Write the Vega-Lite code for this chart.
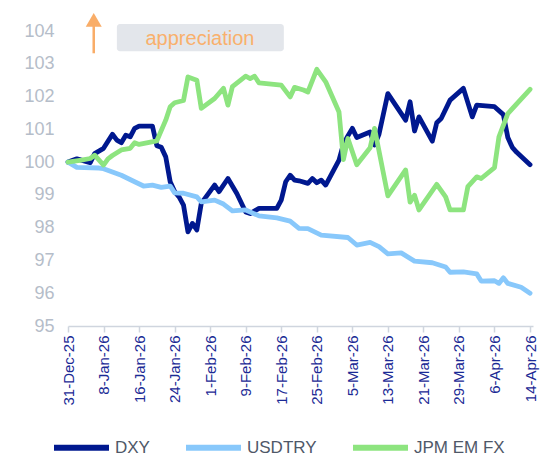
{
  "$schema": "https://vega.github.io/schema/vega-lite/v6.json",
  "width": 465,
  "height": 295,
  "autosize": {"type": "none"},
  "padding": {"left": 68, "top": 31, "right": 19, "bottom": 131},
  "background": "white",
  "config": {"view": {"stroke": null}, "font": "Liberation Sans"},
  "datasets": {
    "fx": [
      {"date": "2025-12-31", "series": "DXY", "value": 100.00},
      {"date": "2026-01-02", "series": "DXY", "value": 100.10},
      {"date": "2026-01-03", "series": "DXY", "value": 100.06},
      {"date": "2026-01-05", "series": "DXY", "value": 99.98},
      {"date": "2026-01-06", "series": "DXY", "value": 100.26},
      {"date": "2026-01-08", "series": "DXY", "value": 100.42},
      {"date": "2026-01-10", "series": "DXY", "value": 100.85},
      {"date": "2026-01-11", "series": "DXY", "value": 100.67},
      {"date": "2026-01-12", "series": "DXY", "value": 100.59},
      {"date": "2026-01-13", "series": "DXY", "value": 100.82},
      {"date": "2026-01-14", "series": "DXY", "value": 100.77},
      {"date": "2026-01-15", "series": "DXY", "value": 101.03},
      {"date": "2026-01-16", "series": "DXY", "value": 101.10},
      {"date": "2026-01-19", "series": "DXY", "value": 101.10},
      {"date": "2026-01-20", "series": "DXY", "value": 100.50},
      {"date": "2026-01-21", "series": "DXY", "value": 100.45},
      {"date": "2026-01-22", "series": "DXY", "value": 100.16},
      {"date": "2026-01-23", "series": "DXY", "value": 99.40},
      {"date": "2026-01-24", "series": "DXY", "value": 99.10},
      {"date": "2026-01-25", "series": "DXY", "value": 98.94},
      {"date": "2026-01-26", "series": "DXY", "value": 98.69},
      {"date": "2026-01-27", "series": "DXY", "value": 97.87},
      {"date": "2026-01-28", "series": "DXY", "value": 98.13},
      {"date": "2026-01-29", "series": "DXY", "value": 97.93},
      {"date": "2026-01-30", "series": "DXY", "value": 98.74},
      {"date": "2026-02-02", "series": "DXY", "value": 99.30},
      {"date": "2026-02-03", "series": "DXY", "value": 99.10},
      {"date": "2026-02-05", "series": "DXY", "value": 99.50},
      {"date": "2026-02-07", "series": "DXY", "value": 99.04},
      {"date": "2026-02-09", "series": "DXY", "value": 98.48},
      {"date": "2026-02-10", "series": "DXY", "value": 98.43},
      {"date": "2026-02-12", "series": "DXY", "value": 98.59},
      {"date": "2026-02-16", "series": "DXY", "value": 98.59},
      {"date": "2026-02-17", "series": "DXY", "value": 98.84},
      {"date": "2026-02-18", "series": "DXY", "value": 99.40},
      {"date": "2026-02-19", "series": "DXY", "value": 99.60},
      {"date": "2026-02-20", "series": "DXY", "value": 99.45},
      {"date": "2026-02-21", "series": "DXY", "value": 99.43},
      {"date": "2026-02-23", "series": "DXY", "value": 99.35},
      {"date": "2026-02-24", "series": "DXY", "value": 99.50},
      {"date": "2026-02-25", "series": "DXY", "value": 99.37},
      {"date": "2026-02-26", "series": "DXY", "value": 99.45},
      {"date": "2026-02-27", "series": "DXY", "value": 99.30},
      {"date": "2026-03-02", "series": "DXY", "value": 100.06},
      {"date": "2026-03-03", "series": "DXY", "value": 100.55},
      {"date": "2026-03-04", "series": "DXY", "value": 100.80},
      {"date": "2026-03-05", "series": "DXY", "value": 101.03},
      {"date": "2026-03-06", "series": "DXY", "value": 100.75},
      {"date": "2026-03-09", "series": "DXY", "value": 100.92},
      {"date": "2026-03-10", "series": "DXY", "value": 100.52},
      {"date": "2026-03-11", "series": "DXY", "value": 100.85},
      {"date": "2026-03-13", "series": "DXY", "value": 102.09},
      {"date": "2026-03-17", "series": "DXY", "value": 101.28},
      {"date": "2026-03-18", "series": "DXY", "value": 101.84},
      {"date": "2026-03-19", "series": "DXY", "value": 100.95},
      {"date": "2026-03-20", "series": "DXY", "value": 101.38},
      {"date": "2026-03-23", "series": "DXY", "value": 100.64},
      {"date": "2026-03-24", "series": "DXY", "value": 101.20},
      {"date": "2026-03-25", "series": "DXY", "value": 101.33},
      {"date": "2026-03-27", "series": "DXY", "value": 101.89},
      {"date": "2026-03-30", "series": "DXY", "value": 102.25},
      {"date": "2026-04-01", "series": "DXY", "value": 101.38},
      {"date": "2026-04-02", "series": "DXY", "value": 101.74},
      {"date": "2026-04-06", "series": "DXY", "value": 101.69},
      {"date": "2026-04-08", "series": "DXY", "value": 101.45},
      {"date": "2026-04-09", "series": "DXY", "value": 100.75},
      {"date": "2026-04-10", "series": "DXY", "value": 100.45},
      {"date": "2026-04-11", "series": "DXY", "value": 100.30},
      {"date": "2026-04-14", "series": "DXY", "value": 99.92},

      {"date": "2025-12-31", "series": "USDTRY", "value": 100.00},
      {"date": "2026-01-02", "series": "USDTRY", "value": 99.84},
      {"date": "2026-01-07", "series": "USDTRY", "value": 99.82},
      {"date": "2026-01-08", "series": "USDTRY", "value": 99.80},
      {"date": "2026-01-10", "series": "USDTRY", "value": 99.70},
      {"date": "2026-01-12", "series": "USDTRY", "value": 99.60},
      {"date": "2026-01-15", "series": "USDTRY", "value": 99.40},
      {"date": "2026-01-17", "series": "USDTRY", "value": 99.27},
      {"date": "2026-01-19", "series": "USDTRY", "value": 99.30},
      {"date": "2026-01-21", "series": "USDTRY", "value": 99.23},
      {"date": "2026-01-23", "series": "USDTRY", "value": 99.27},
      {"date": "2026-01-24", "series": "USDTRY", "value": 99.06},
      {"date": "2026-01-26", "series": "USDTRY", "value": 99.05},
      {"date": "2026-01-29", "series": "USDTRY", "value": 98.94},
      {"date": "2026-01-30", "series": "USDTRY", "value": 98.79},
      {"date": "2026-02-02", "series": "USDTRY", "value": 98.84},
      {"date": "2026-02-04", "series": "USDTRY", "value": 98.72},
      {"date": "2026-02-06", "series": "USDTRY", "value": 98.51},
      {"date": "2026-02-09", "series": "USDTRY", "value": 98.54},
      {"date": "2026-02-12", "series": "USDTRY", "value": 98.36},
      {"date": "2026-02-16", "series": "USDTRY", "value": 98.30},
      {"date": "2026-02-19", "series": "USDTRY", "value": 98.20},
      {"date": "2026-02-21", "series": "USDTRY", "value": 97.98},
      {"date": "2026-02-23", "series": "USDTRY", "value": 97.97},
      {"date": "2026-02-26", "series": "USDTRY", "value": 97.77},
      {"date": "2026-03-04", "series": "USDTRY", "value": 97.70},
      {"date": "2026-03-06", "series": "USDTRY", "value": 97.47},
      {"date": "2026-03-09", "series": "USDTRY", "value": 97.55},
      {"date": "2026-03-11", "series": "USDTRY", "value": 97.42},
      {"date": "2026-03-13", "series": "USDTRY", "value": 97.20},
      {"date": "2026-03-16", "series": "USDTRY", "value": 97.23},
      {"date": "2026-03-19", "series": "USDTRY", "value": 96.98},
      {"date": "2026-03-23", "series": "USDTRY", "value": 96.93},
      {"date": "2026-03-26", "series": "USDTRY", "value": 96.80},
      {"date": "2026-03-27", "series": "USDTRY", "value": 96.64},
      {"date": "2026-03-30", "series": "USDTRY", "value": 96.65},
      {"date": "2026-04-02", "series": "USDTRY", "value": 96.59},
      {"date": "2026-04-03", "series": "USDTRY", "value": 96.37},
      {"date": "2026-04-06", "series": "USDTRY", "value": 96.38},
      {"date": "2026-04-07", "series": "USDTRY", "value": 96.30},
      {"date": "2026-04-08", "series": "USDTRY", "value": 96.47},
      {"date": "2026-04-09", "series": "USDTRY", "value": 96.30},
      {"date": "2026-04-12", "series": "USDTRY", "value": 96.18},
      {"date": "2026-04-14", "series": "USDTRY", "value": 96.00},

      {"date": "2025-12-31", "series": "JPM EM FX", "value": 100.00},
      {"date": "2026-01-03", "series": "JPM EM FX", "value": 100.06},
      {"date": "2026-01-05", "series": "JPM EM FX", "value": 100.11},
      {"date": "2026-01-06", "series": "JPM EM FX", "value": 100.21},
      {"date": "2026-01-08", "series": "JPM EM FX", "value": 99.91},
      {"date": "2026-01-09", "series": "JPM EM FX", "value": 100.10},
      {"date": "2026-01-10", "series": "JPM EM FX", "value": 100.20},
      {"date": "2026-01-12", "series": "JPM EM FX", "value": 100.37},
      {"date": "2026-01-14", "series": "JPM EM FX", "value": 100.42},
      {"date": "2026-01-15", "series": "JPM EM FX", "value": 100.59},
      {"date": "2026-01-16", "series": "JPM EM FX", "value": 100.54},
      {"date": "2026-01-20", "series": "JPM EM FX", "value": 100.65},
      {"date": "2026-01-22", "series": "JPM EM FX", "value": 101.28},
      {"date": "2026-01-23", "series": "JPM EM FX", "value": 101.69},
      {"date": "2026-01-24", "series": "JPM EM FX", "value": 101.81},
      {"date": "2026-01-26", "series": "JPM EM FX", "value": 101.88},
      {"date": "2026-01-27", "series": "JPM EM FX", "value": 102.60},
      {"date": "2026-01-29", "series": "JPM EM FX", "value": 102.50},
      {"date": "2026-01-30", "series": "JPM EM FX", "value": 101.64},
      {"date": "2026-02-02", "series": "JPM EM FX", "value": 101.94},
      {"date": "2026-02-04", "series": "JPM EM FX", "value": 102.25},
      {"date": "2026-02-05", "series": "JPM EM FX", "value": 101.74},
      {"date": "2026-02-06", "series": "JPM EM FX", "value": 102.30},
      {"date": "2026-02-09", "series": "JPM EM FX", "value": 102.62},
      {"date": "2026-02-10", "series": "JPM EM FX", "value": 102.55},
      {"date": "2026-02-11", "series": "JPM EM FX", "value": 102.62},
      {"date": "2026-02-12", "series": "JPM EM FX", "value": 102.42},
      {"date": "2026-02-17", "series": "JPM EM FX", "value": 102.35},
      {"date": "2026-02-19", "series": "JPM EM FX", "value": 101.99},
      {"date": "2026-02-20", "series": "JPM EM FX", "value": 102.28},
      {"date": "2026-02-22", "series": "JPM EM FX", "value": 102.20},
      {"date": "2026-02-23", "series": "JPM EM FX", "value": 102.14},
      {"date": "2026-02-25", "series": "JPM EM FX", "value": 102.83},
      {"date": "2026-02-27", "series": "JPM EM FX", "value": 102.45},
      {"date": "2026-03-02", "series": "JPM EM FX", "value": 101.53},
      {"date": "2026-03-03", "series": "JPM EM FX", "value": 100.08},
      {"date": "2026-03-04", "series": "JPM EM FX", "value": 100.72},
      {"date": "2026-03-06", "series": "JPM EM FX", "value": 99.92},
      {"date": "2026-03-09", "series": "JPM EM FX", "value": 100.44},
      {"date": "2026-03-10", "series": "JPM EM FX", "value": 101.03},
      {"date": "2026-03-13", "series": "JPM EM FX", "value": 98.97},
      {"date": "2026-03-17", "series": "JPM EM FX", "value": 99.76},
      {"date": "2026-03-18", "series": "JPM EM FX", "value": 98.78},
      {"date": "2026-03-19", "series": "JPM EM FX", "value": 98.99},
      {"date": "2026-03-20", "series": "JPM EM FX", "value": 98.54},
      {"date": "2026-03-24", "series": "JPM EM FX", "value": 99.32},
      {"date": "2026-03-26", "series": "JPM EM FX", "value": 98.94},
      {"date": "2026-03-27", "series": "JPM EM FX", "value": 98.54},
      {"date": "2026-03-30", "series": "JPM EM FX", "value": 98.54},
      {"date": "2026-03-31", "series": "JPM EM FX", "value": 99.25},
      {"date": "2026-04-02", "series": "JPM EM FX", "value": 99.55},
      {"date": "2026-04-03", "series": "JPM EM FX", "value": 99.50},
      {"date": "2026-04-06", "series": "JPM EM FX", "value": 99.83},
      {"date": "2026-04-07", "series": "JPM EM FX", "value": 100.77},
      {"date": "2026-04-09", "series": "JPM EM FX", "value": 101.48},
      {"date": "2026-04-14", "series": "JPM EM FX", "value": 102.22}
    ]
  },
  "layer": [
    {
      "data": {"name": "fx"},
      "mark": {"type": "line", "strokeWidth": 4.8, "strokeJoin": "round", "strokeCap": "round"},
      "encoding": {
        "x": {
          "field": "date",
          "type": "temporal",
          "scale": {
            "type": "utc",
            "domain": [
              {"year": 2025, "month": 12, "date": 31, "utc": true},
              {"year": 2026, "month": 4, "date": 14, "hours": 16, "utc": true}
            ]
          },
          "axis": {
            "title": null,
            "format": "%-d-%b-%y",
            "tickCount": 40,
            "values": [
              {"year": 2025, "month": 12, "date": 31, "utc": true},
              {"year": 2026, "month": 1, "date": 8, "utc": true},
              {"year": 2026, "month": 1, "date": 16, "utc": true},
              {"year": 2026, "month": 1, "date": 24, "utc": true},
              {"year": 2026, "month": 2, "date": 1, "utc": true},
              {"year": 2026, "month": 2, "date": 9, "utc": true},
              {"year": 2026, "month": 2, "date": 17, "utc": true},
              {"year": 2026, "month": 2, "date": 25, "utc": true},
              {"year": 2026, "month": 3, "date": 5, "utc": true},
              {"year": 2026, "month": 3, "date": 13, "utc": true},
              {"year": 2026, "month": 3, "date": 21, "utc": true},
              {"year": 2026, "month": 3, "date": 29, "utc": true},
              {"year": 2026, "month": 4, "date": 6, "utc": true},
              {"year": 2026, "month": 4, "date": 14, "utc": true}
            ],
            "labelAngle": -90,
            "labelFontSize": 15,
            "labelColor": "#1b2a95",
            "labelPadding": 3,
            "labelOverlap": false,
            "labelBound": false,
            "labelFlush": false,
            "domainColor": "#cfd5de",
            "domainWidth": 1.5,
            "tickColor": "#cfd5de",
            "tickWidth": 1.5,
            "tickSize": 6,
            "grid": false
          }
        },
        "y": {
          "field": "value",
          "type": "quantitative",
          "scale": {"domain": [95, 104], "nice": false, "zero": false},
          "axis": {
            "title": null,
            "format": "d",
            "tickCount": 40,
            "values": [95, 96, 97, 98, 99, 100, 101, 102, 103, 104],
            "labelOverlap": false,
            "domain": false,
            "ticks": false,
            "grid": false,
            "labelFontSize": 18,
            "labelColor": "#b5bdc9",
            "labelPadding": 14
          }
        },
        "color": {
          "field": "series",
          "type": "nominal",
          "scale": {"domain": ["DXY", "USDTRY", "JPM EM FX"], "range": ["#00188f", "#88c8fb", "#8de47f"]},
          "legend": {
            "title": null,
            "orient": "none",
            "direction": "horizontal",
            "legendX": -17,
            "legendY": 386,
            "symbolType": "stroke",
            "symbolSize": 3025,
            "symbolStrokeWidth": 6,
            "labelFontSize": 17,
            "labelColor": "#4f5868",
            "labelOffset": 3,
            "columnPadding": 24
          }
        }
      }
    },
    {
      "data": {"values": [{}]},
      "mark": {"type": "rect", "color": "#e3e6eb", "cornerRadius": 3},
      "encoding": {
        "x": {"datum": {"year": 2026, "month": 1, "date": 11, "utc": true}, "type": "temporal"},
        "x2": {"datum": {"year": 2026, "month": 2, "date": 17, "hours": 14, "utc": true}},
        "y": {"datum": 104.21, "type": "quantitative"},
        "y2": {"datum": 103.38}
      }
    },
    {
      "data": {"values": [{}]},
      "mark": {"type": "text", "text": "appreciation", "color": "#f9b06c", "fontSize": 20, "align": "center", "baseline": "middle"},
      "encoding": {
        "x": {"datum": {"year": 2026, "month": 1, "date": 29, "hours": 17, "utc": true}, "type": "temporal"},
        "y": {"datum": 103.76, "type": "quantitative"}
      }
    },
    {
      "data": {"values": [{}]},
      "mark": {"type": "rule", "color": "#f9ad68", "strokeWidth": 2.5},
      "encoding": {
        "x": {"datum": {"year": 2026, "month": 1, "date": 5, "hours": 19, "utc": true}, "type": "temporal"},
        "y": {"datum": 103.32, "type": "quantitative"},
        "y2": {"datum": 104.3}
      }
    },
    {
      "data": {"values": [{}]},
      "mark": {"type": "point", "shape": "triangle-up", "size": 256, "filled": true, "color": "#f9ad68", "opacity": 1},
      "encoding": {
        "x": {"datum": {"year": 2026, "month": 1, "date": 5, "hours": 19, "utc": true}, "type": "temporal"},
        "y": {"datum": 104.34, "type": "quantitative"}
      }
    }
  ]
}
